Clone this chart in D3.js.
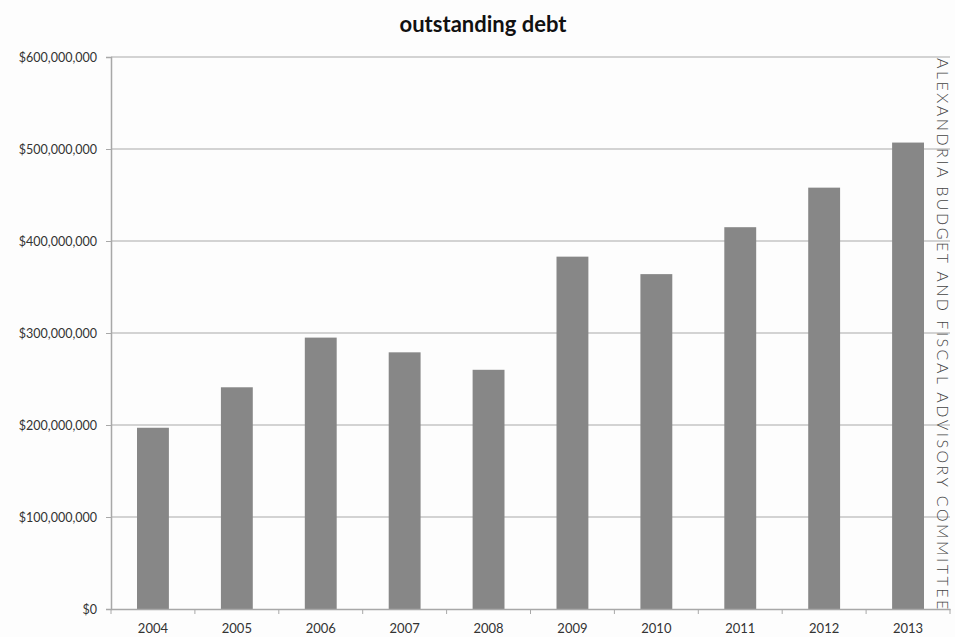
<!DOCTYPE html>
<html>
<head>
<meta charset="utf-8">
<style>
  body { margin: 0; background: #fdfdfd; }
  svg { display: block; }
</style>
</head>
<body>
<svg width="955" height="637"></svg>
<script src="https://cdn.jsdelivr.net/npm/d3@7"></script>
<script>
    // data
    var years = ["2004", "2005", "2006", "2007", "2008", "2009", "2010", "2011", "2012", "2013"];
    var debt = [197e6, 241e6, 295e6, 279e6, 260e6, 383e6, 364e6, 415e6, 458e6, 507e6];
    var yTicks = [0, 100e6, 200e6, 300e6, 400e6, 500e6, 600e6];

    var svg = d3.select("svg"),
        width = +svg.attr("width"),
        height = +svg.attr("height");
    var margin = {top: 57, right: 5, bottom: 28, left: 111};
    var font = "Lato, 'Open Sans', sans-serif";

    var x = d3.scaleBand()
        .domain(years)
        .range([margin.left, width - margin.right])
        .paddingInner(0.62)
        .paddingOuter(0.31);
    var y = d3.scaleLinear()
        .domain([0, 600e6])
        .range([height - margin.bottom, margin.top]);

    var fmt = function(d) { return "$" + d3.format(",")(d); };

    // gridlines
    svg.append("g")
        .selectAll("line")
        .data(yTicks.slice(1))
        .enter().append("line")
        .attr("x1", margin.left)
        .attr("x2", width - margin.right)
        .attr("y1", function(d) { return y(d); })
        .attr("y2", function(d) { return y(d); })
        .attr("stroke", "#c4c4c4")
        .attr("stroke-width", 1.5);

    // bars
    svg.append("g")
        .selectAll("rect")
        .data(debt)
        .enter().append("rect")
        .attr("x", function(d, i) { return x(years[i]); })
        .attr("y", function(d) { return y(d); })
        .attr("width", x.bandwidth())
        .attr("height", function(d) { return y(0) - y(d); })
        .attr("fill", "#878787");

    // y axis
    var yAxis = svg.append("g")
        .attr("transform", "translate(" + margin.left + ",0)")
        .call(d3.axisLeft(y).tickValues(yTicks).tickFormat(fmt).tickSize(5).tickPadding(9));
    yAxis.select(".domain").attr("stroke", "#a8a8a8").attr("stroke-width", 1.5);
    yAxis.selectAll(".tick line").attr("stroke", "#a8a8a8");
    yAxis.selectAll("text")
        .style("font-family", font)
        .style("font-size", "12.5px")
        .attr("fill", "#333");

    // x axis, ticks at category boundaries
    var xAxis = svg.append("g")
        .attr("transform", "translate(0," + y(0) + ")")
        .call(d3.axisBottom(x).tickSize(0).tickPadding(15));
    xAxis.select(".domain").attr("stroke", "#a8a8a8").attr("stroke-width", 1.5);
    xAxis.selectAll("text")
        .style("font-family", font)
        .style("font-size", "13px")
        .attr("fill", "#333");
    var inner = (width - margin.left - margin.right) / years.length;
    xAxis.selectAll(".bound")
        .data(d3.range(years.length + 1))
        .enter().append("line")
        .attr("x1", function(i) { return margin.left + i * inner; })
        .attr("x2", function(i) { return margin.left + i * inner; })
        .attr("y1", 0)
        .attr("y2", 5)
        .attr("stroke", "#a8a8a8");

    // title
    svg.append("text")
        .attr("x", 483)
        .attr("y", 32)
        .attr("text-anchor", "middle")
        .style("font-family", font)
        .style("font-weight", "bold")
        .style("font-size", "22px")
        .attr("fill", "#111")
        .text("outstanding debt");

    // vertical side caption
    svg.append("text")
        .attr("transform", "translate(937,58) rotate(90)")
        .style("font-family", font)
        .style("font-weight", "300")
        .style("font-size", "16px")
        .style("letter-spacing", "2.5px")
        .attr("fill", "#444")
        .text("ALEXANDRIA BUDGET AND FISCAL ADVISORY COMMITTEE");
</script>
</body>
</html>
